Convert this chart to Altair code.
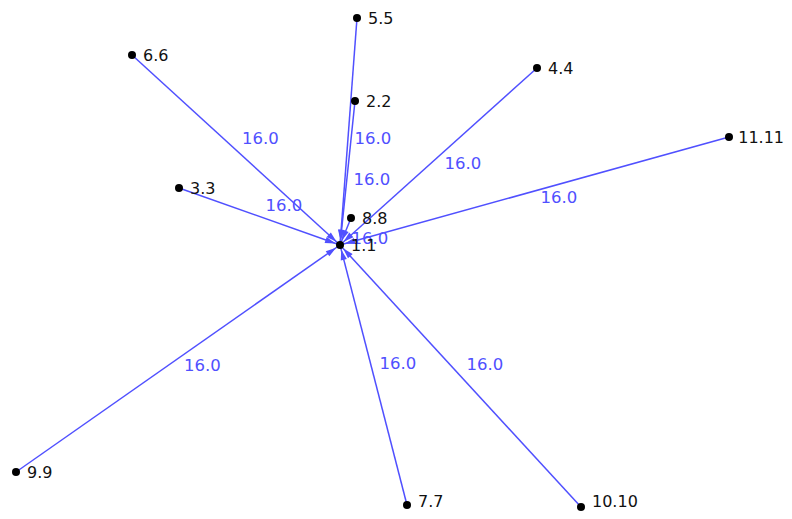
import math
import altair as alt
import pandas as pd

# Node layout (pixel-like layout coordinates) and labels
node_names = ["1.1", "2.2", "3.3", "4.4", "5.5", "6.6", "7.7", "8.8", "9.9", "10.10", "11.11"]
node_x = [340, 355, 179, 537, 357, 132, 407, 351, 16, 581, 729]
node_y = [245, 101, 188, 68, 18, 55, 505, 218, 472, 507, 137]

# Edges (directed, all pointing to 1.1) and their weights
edge_source = ["2.2", "3.3", "4.4", "5.5", "6.6", "7.7", "8.8", "9.9", "10.10", "11.11"]
edge_target = ["1.1"] * 10
edge_weight = [16.0] * 10

W, H = 776, 503
FS = 16


def text_width(s):
    return sum((0.318 if c == "." else 0.636) * FS for c in s)


pos = {n: (x, y) for n, x, y in zip(node_names, node_x, node_y)}
nodes = pd.DataFrame({"name": node_names, "x": node_x, "y": node_y})
# keep node labels inside the drawing area
nodes["lx"] = [min(x + 11, 8 + W - text_width(n)) for n, x in zip(node_names, node_x)]
nodes["ly"] = [min(y + 1, 8 + H - 9) for y in node_y]

rows = []
for s, t, w in zip(edge_source, edge_target, edge_weight):
    sx, sy = pos[s]
    tx, ty = pos[t]
    dx, dy = tx - sx, ty - sy
    L = math.hypot(dx, dy)
    ux, uy = dx / L, dy / L
    ang = math.degrees(math.atan2(dx, -dy)) % 360
    rows.append({
        "source": s, "target": t,
        "sx": sx, "sy": sy, "tx": tx, "ty": ty,
        "mx": (sx + tx) / 2, "my": (sy + ty) / 2,
        "ax": tx - ux * 10, "ay": ty - uy * 10,
        "angle": ang,
        "label": f"{w:.1f}",
        "above": (dx * dy) > 0,
    })
edges = pd.DataFrame(rows)

xs = alt.Scale(domain=[8, 8 + W], nice=False, zero=False)
ys = alt.Scale(domain=[8, 8 + H], nice=False, zero=False, reverse=True)
BLUE = "#5050ff"

base_e = alt.Chart(edges)

lines = base_e.mark_rule(color=BLUE, strokeWidth=1.5).encode(
    x=alt.X("sx:Q", scale=xs, axis=None),
    y=alt.Y("sy:Q", scale=ys, axis=None),
    x2="tx:Q",
    y2="ty:Q",
)

arrows = base_e.mark_point(
    shape="M0,-1L0.6,1L-0.6,1Z", filled=True, color=BLUE, opacity=1, size=110
).encode(
    x=alt.X("ax:Q", scale=xs, axis=None),
    y=alt.Y("ay:Q", scale=ys, axis=None),
    angle=alt.Angle("angle:Q", scale=None),
)

lab_above = base_e.transform_filter("datum.above").mark_text(
    color=BLUE, font="DejaVu Sans", fontSize=16.5, align="left", baseline="middle", dx=6, dy=-11
).encode(
    x=alt.X("mx:Q", scale=xs, axis=None),
    y=alt.Y("my:Q", scale=ys, axis=None),
    text="label:N",
)

lab_below = base_e.transform_filter("!datum.above").mark_text(
    color=BLUE, font="DejaVu Sans", fontSize=16.5, align="left", baseline="middle", dx=6, dy=7
).encode(
    x=alt.X("mx:Q", scale=xs, axis=None),
    y=alt.Y("my:Q", scale=ys, axis=None),
    text="label:N",
)

base_n = alt.Chart(nodes)
dots = base_n.mark_circle(color="black", opacity=1, size=64).encode(
    x=alt.X("x:Q", scale=xs, axis=None),
    y=alt.Y("y:Q", scale=ys, axis=None),
)
names = base_n.mark_text(
    color="#111111", font="DejaVu Sans", fontSize=FS, align="left", baseline="middle"
).encode(
    x=alt.X("lx:Q", scale=xs, axis=None),
    y=alt.Y("ly:Q", scale=ys, axis=None),
    text="name:N",
)

chart = alt.layer(lines, arrows, lab_above, lab_below, dots, names).properties(
    width=W, height=H,
    padding=0,
    autosize=alt.AutoSizeParams(type="none"),
    background="white",
).configure_view(strokeWidth=0, stroke="transparent")

chart.save("out.html", embed_options={"renderer": "svg", "actions": False})
